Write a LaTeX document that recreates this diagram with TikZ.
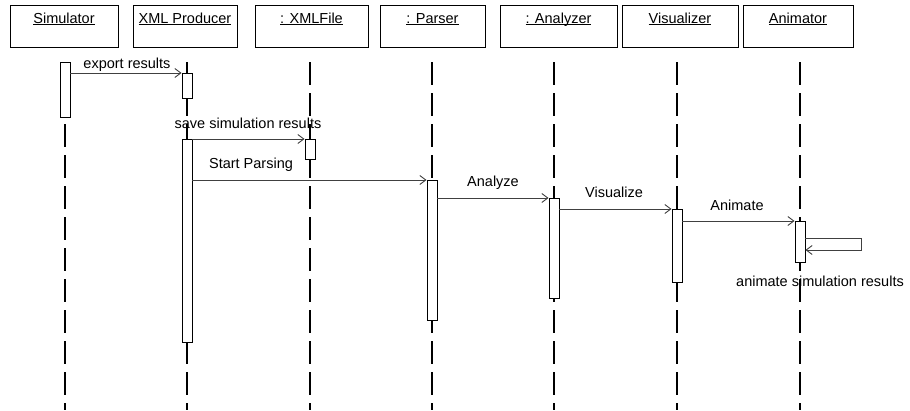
\documentclass[tikz,border=0pt]{standalone}
\usepackage{fontspec}
\setmainfont{Liberation Sans}
\usetikzlibrary{arrows.meta}
% underline drawn at a fixed depth, independent of descenders
\newcommand\hdul[1]{\setbox0\hbox{#1}\rlap{\rule[-2pt]{\wd0}{0.7pt}}\box0}

\begin{document}
\begin{tikzpicture}[x=1pt,y=-1pt,
  every node/.style={font=\fontsize{14.5}{17}\selectfont},
  objbox/.style={draw=black, line width=1pt, fill=white, inner sep=0pt,
    minimum height=42pt, text height=17.5pt, text depth=24.5pt, anchor=north},
  lifeline/.style={draw=black, line width=1.3pt, dash pattern=on 23pt off 8pt},
  actbar/.style={draw=black, line width=0.9pt, fill=white, inner sep=0pt,
    minimum width=10pt, anchor=north},
  msg/.style={draw=black!75, line width=0.9pt, -{Straight Barb[length=6pt,width=9pt]}},
  msglabel/.style={anchor=base, inner sep=0pt}]

\useasboundingbox (0,0) rectangle (910,410);

% object headers
\node[objbox, minimum width=108pt] (hsim)  at (64,5)    {\hdul{Simulator}};
\node[objbox, minimum width=104pt] (hxml)  at (185,5)   {\hdul{XML Producer}};
\node[objbox, minimum width=113pt] (hfile) at (311.5,5) {\hdul{: XMLFile}};
\node[objbox, minimum width=105pt] (hpar)  at (432.5,5) {\hdul{: Parser}};
\node[objbox, minimum width=117pt] (hana)  at (558.5,5) {\hdul{: Analyzer}};
\node[objbox, minimum width=116pt] (hvis)  at (680,5)   {\hdul{Visualizer}};
\node[objbox, minimum width=110pt] (hani)  at (798,5)   {\hdul{Animator}};

% lifelines
\foreach \nm/\x in {sim/65, xml/187, file/310, par/432, ana/554, vis/677, ani/800} {
  \coordinate (\nm top) at (\x,62);
  \coordinate (\nm bot) at (\x,410);
  \draw[lifeline] (\nm top) -- (\nm bot);
}

% activation bars
\node[actbar, minimum height=55pt]  (bsim)  at (65,62)  {};
\node[actbar, minimum height=25pt]  (bxml1) at (187,73) {};
\node[actbar, minimum height=203pt] (bxml2) at (187,139) {};
\node[actbar, minimum height=20pt]  (bfile) at (310,139) {};
\node[actbar, minimum height=140pt] (bpar)  at (432,180) {};
\node[actbar, minimum height=100pt] (bana)  at (554,198) {};
\node[actbar, minimum height=73pt]  (bvis)  at (677,209) {};
\node[actbar, minimum height=41pt]  (bani)  at (800,221) {};

% messages
\draw[msg] (bxml1.north west -| bsim.east)  -- (bxml1.north west);
\draw[msg] (bfile.north west -| bxml2.east) -- (bfile.north west);
\draw[msg] (bpar.north west -| bxml2.east)  -- (bpar.north west);
\draw[msg] (bana.north west -| bpar.east)   -- (bana.north west);
\draw[msg] (bvis.north west -| bana.east)   -- (bvis.north west);
\draw[msg] (bani.north west -| bvis.east)   -- (bani.north west);

% self call on the animator
\coordinate (loopa) at (861,238);
\coordinate (loopb) at (861,250);
\draw[msg] (loopa -| bani.east) -- (loopa) -- (loopb) -- (loopb -| bani.east);

% message labels
\node[msglabel] (lexp)   at (127,68)  {export results};
\node[msglabel] (lsave)  at (248,128) {save simulation results};
\node[msglabel] (lstart) at (251,168) {Start Parsing};
\node[msglabel] (lanl)   at (493,186) {Analyze};
\node[msglabel] (lvisl)  at (614,197) {Visualize};
\node[msglabel] (lanil)  at (737,210) {Animate};
\node[msglabel] (lself)  at (820,286) {animate simulation results};

\end{tikzpicture}
\end{document}
